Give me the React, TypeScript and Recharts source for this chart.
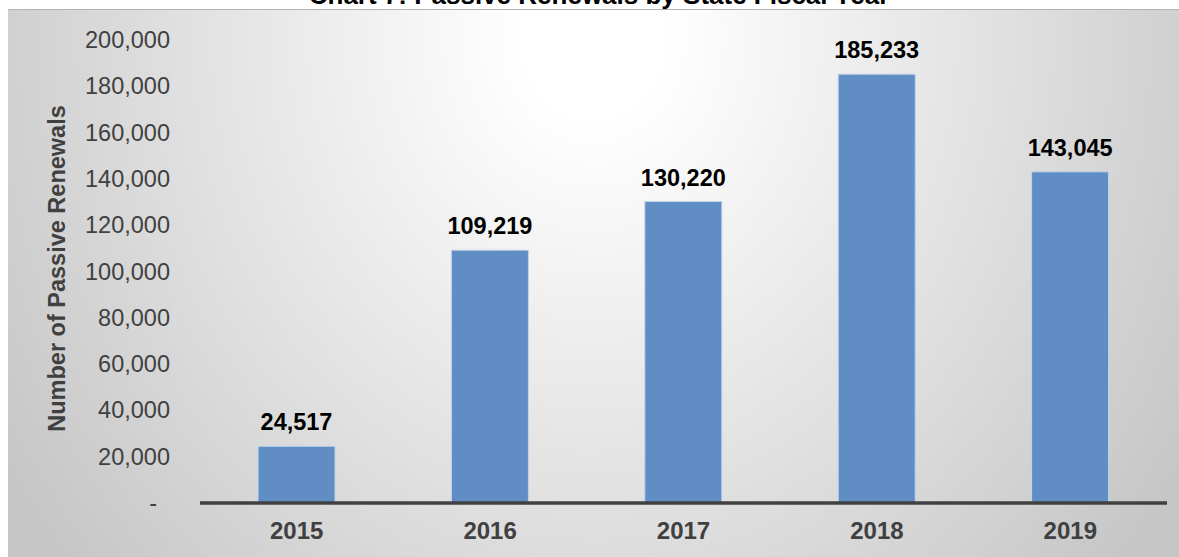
import React from "react";
import { BarChart, Bar, XAxis, YAxis, LabelList } from "recharts";

const years = ["2015", "2016", "2017", "2018", "2019"];
const renewals = [24517, 109219, 130220, 185233, 143045];
const yTicks = [0, 20000, 40000, 60000, 80000, 100000, 120000, 140000, 160000, 180000, 200000];

const data = years.map((y, i) => ({ year: y, value: renewals[i] }));

const FONT = "'Liberation Sans', Arial, sans-serif";
const fmt = (v: number) => v.toLocaleString("en-US");

const YTick = (props: any) => {
  const { x, y, payload } = props;
  const v = payload.value as number;
  return (
    <text
      x={v === 0 ? x - 13 : x}
      y={y}
      dy={8}
      textAnchor="end"
      fontFamily={FONT}
      fontSize={23.5}
      fill="#404040"
    >
      {v === 0 ? "-" : fmt(v)}
    </text>
  );
};

const XTick = (props: any) => {
  const { x, y, payload } = props;
  return (
    <text x={x} y={y + 36} textAnchor="middle" fontFamily={FONT} fontSize={24} fontWeight="bold" fill="#404040">
      {payload.value}
    </text>
  );
};

const YLabel = (props: any) => {
  const vb = props.viewBox || {};
  const cx = 49;
  const cy = (vb.y || 0) + (vb.height || 0) / 2 - 3;
  return (
    <text
      x={cx}
      y={cy}
      transform={`rotate(-90, ${cx}, ${cy})`}
      textAnchor="middle"
      dominantBaseline="central"
      fontFamily={FONT}
      fontSize={23.5}
      fontWeight="bold"
      fill="#404040"
    >
      Number of Passive Renewals
    </text>
  );
};

export default function App() {
  return (
    <div style={{ position: "absolute", left: 0, top: 0, width: 1179, height: 557, overflow: "hidden", background: "#ffffff" }}>
      <div
        style={{
          position: "absolute",
          left: 8,
          top: 9,
          width: 1171,
          height: 548,
          borderTop: "1px solid #b4b4b4",
          boxSizing: "border-box",
          background: "radial-gradient(ellipse 700px 800px at 50% 5%, #ffffff 10%, #c6c6c6 100%)",
        }}
      >
        <BarChart
          width={1171}
          height={546}
          data={data}
          margin={{ top: 30, right: 12, bottom: 0, left: 0 }}
          barCategoryGap="30%"
        >
          <YAxis
            width={192}
            domain={[0, 200000]}
            ticks={yTicks}
            interval={0}
            axisLine={false}
            tickLine={false}
            tickSize={0}
            tickMargin={30}
            tick={<YTick />}
            label={<YLabel />}
          />
          <XAxis
            dataKey="year"
            height={53}
            axisLine={{ stroke: "#404040", strokeWidth: 3.5 }}
            tickLine={false}
            tickSize={0}
            tickMargin={0}
            tick={<XTick />}
          />
          <Bar dataKey="value" fill="#5f8dc4" stroke="#c3d5ec" strokeWidth={1} isAnimationActive={false}>
            <LabelList
              dataKey="value"
              position="top"
              offset={16}
              formatter={(v: any) => fmt(Number(v))}
              fontFamily={FONT}
              fontSize={23.5}
              fontWeight="bold"
              fill="#000000"
            />
          </Bar>
        </BarChart>
      </div>
      <svg width={1179} height={20} style={{ position: "absolute", left: 0, top: 0 }}>
        <text x={599} y={4} textAnchor="middle" fontFamily={FONT} fontSize={26} fontWeight="bold" fill="#000000">
          Chart 7: Passive Renewals by State Fiscal Year
        </text>
      </svg>
    </div>
  );
}
